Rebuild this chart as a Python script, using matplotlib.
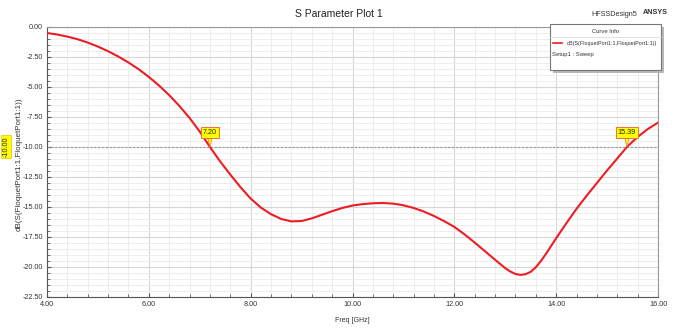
import matplotlib.pyplot as plt
from matplotlib.patches import Rectangle
from matplotlib.ticker import MultipleLocator, FormatStrFormatter

plt.rcParams["font.family"] = ["Liberation Sans", "DejaVu Sans"]

freq_ghz = [4.0, 4.2, 4.4, 4.6, 4.8, 5.0, 5.2, 5.4, 5.6, 5.8, 6.0, 6.2, 6.4,
            6.6, 6.8, 7.0, 7.2, 7.4, 7.6, 7.8, 8.0, 8.2, 8.4, 8.6, 8.8, 9.0,
            9.2, 9.4, 9.6, 9.8, 10.0, 10.2, 10.4, 10.6, 10.8, 11.0, 11.2,
            11.4, 11.6, 11.8, 12.0, 12.2, 12.4, 12.6, 12.8, 13.0, 13.1, 13.2,
            13.3, 13.4, 13.5, 13.6, 13.7, 13.8, 13.9, 14.0, 14.2, 14.4, 14.6,
            14.8, 15.0, 15.2, 15.39, 15.5, 15.6, 15.7, 15.8, 16.0]
s11_db = [-0.50, -0.63, -0.80, -1.02, -1.30, -1.63, -2.02, -2.46, -2.96,
          -3.52, -4.16, -4.88, -5.68, -6.58, -7.58, -8.72, -10.0, -11.2,
          -12.3, -13.35, -14.3, -15.05, -15.6, -16.0, -16.2, -16.17, -15.95,
          -15.65, -15.35, -15.08, -14.88, -14.76, -14.69, -14.67, -14.72,
          -14.86, -15.08, -15.38, -15.75, -16.18, -16.66, -17.28, -17.97,
          -18.68, -19.4, -20.1, -20.38, -20.58, -20.66, -20.6, -20.4, -20.02,
          -19.5, -18.9, -18.25, -17.6, -16.35, -15.15, -14.05, -13.0, -11.95,
          -10.95, -10.0, -9.55, -9.17, -8.83, -8.5, -7.97]

marker_freqs = [7.20, 15.39]
level_db = -10.0

fig = plt.figure(figsize=(6.77, 3.29), dpi=100)
ax = fig.add_axes([0.0694, 0.0973, 0.9026, 0.8207])

ax.plot(freq_ghz, s11_db, color="#ee1c24", lw=1.5, zorder=3,
        solid_joinstyle="round")
ax.axhline(level_db, color="#9a9a9a", lw=0.8, ls=(0, (2, 1.5)), zorder=2)

ax.set_xlim(4, 16)
ax.set_ylim(-22.5, 0)
ax.xaxis.set_major_locator(MultipleLocator(2))
ax.xaxis.set_minor_locator(MultipleLocator(0.4))
ax.yaxis.set_major_locator(MultipleLocator(2.5))
ax.yaxis.set_minor_locator(MultipleLocator(0.5))
ax.xaxis.set_major_formatter(FormatStrFormatter("%.2f"))
ax.yaxis.set_major_formatter(FormatStrFormatter("%.2f"))
ax.grid(which="major", color="#d6d6d6", lw=0.8)
ax.grid(which="minor", color="#ededed", lw=0.7)
ax.set_axisbelow(True)
ax.tick_params(which="both", direction="in", labelsize=5.2, colors="#555555",
               labelcolor="#333333")
ax.tick_params(which="major", length=3, pad=3)
ax.tick_params(which="minor", length=2)
for s in ["left", "bottom"]:
    ax.spines[s].set_color("#555555")
for s in ["top", "right"]:
    ax.spines[s].set_color("#999999")

ax.set_xlabel("Freq [GHz]", fontsize=5, color="#333333")
ax.set_ylabel("dB(S(FloquetPort1:1,FloquetPort1:1))", fontsize=5.8,
              color="#333333")
ax.xaxis.set_label_coords(0.5, -0.075)
ax.yaxis.set_label_coords(-0.040, 0.49)

fig.text(0.5, 0.956, "S Parameter Plot 1", ha="center", va="center",
         fontsize=7.5, color="#222222")
fig.text(0.941, 0.956, "HFSSDesign5", ha="right", va="center", fontsize=5.2,
         color="#333333")
fig.text(0.950, 0.962, "ANSYS", ha="left", va="center", fontsize=5.2,
         fontweight="bold", color="#333333")

# Marker an der -10 dB Linie
for f in marker_freqs:
    ax.annotate(f"{f:.2f}", xy=(f, level_db), xytext=(0, 8),
                textcoords="offset points", ha="center", va="bottom",
                fontsize=5.2, color="#222222", zorder=5,
                bbox=dict(boxstyle="square,pad=0.25", fc="#ffff00",
                          ec="#f07030", lw=0.7),
                arrowprops=dict(arrowstyle="wedge,tail_width=0.6",
                                fc="#ffff00", ec="#f07030", lw=0.5,
                                shrinkA=0, shrinkB=0))

fig.text(0.009, 0.555, "-10.00", rotation=90, ha="center", va="center",
         fontsize=5.2, color="#222222",
         bbox=dict(boxstyle="square,pad=0.2", fc="#ffff00", ec="#e8c000",
                   lw=0.5))

# Curve Info Kasten
lx, ly, lw_, lh = 0.8124, 0.787, 0.164, 0.140
fig.patches.append(Rectangle((lx + 0.004, ly - 0.008), lw_, lh,
                             transform=fig.transFigure, fc="#b8b8b8",
                             ec="none", zorder=4))
fig.patches.append(Rectangle((lx, ly), lw_, lh, transform=fig.transFigure,
                             fc="white", ec="#777777", lw=0.8, zorder=5))
fig.add_artist(plt.Line2D([lx, lx + lw_], [0.888] * 2,
                          transform=fig.transFigure, color="#dddddd",
                          lw=0.6, zorder=6))
fig.text(lx + lw_ / 2, 0.905, "Curve Info", ha="center", va="center",
         fontsize=4.2, color="#333333", zorder=7)
fig.add_artist(plt.Line2D([0.8168, 0.830], [0.869] * 2,
                          transform=fig.transFigure, color="#ee1c24",
                          lw=1.2, zorder=7))
fig.text(0.837, 0.869, "dB(S(FloquetPort1:1,FloquetPort1:1))",
         ha="left", va="center", fontsize=3.9, color="#333333", zorder=7)
fig.text(0.8154, 0.835, "Setup1 : Sweep", ha="left", va="center",
         fontsize=4.2, color="#333333", zorder=7)

fig.savefig("out.png", dpi=100)
plt.close(fig)
